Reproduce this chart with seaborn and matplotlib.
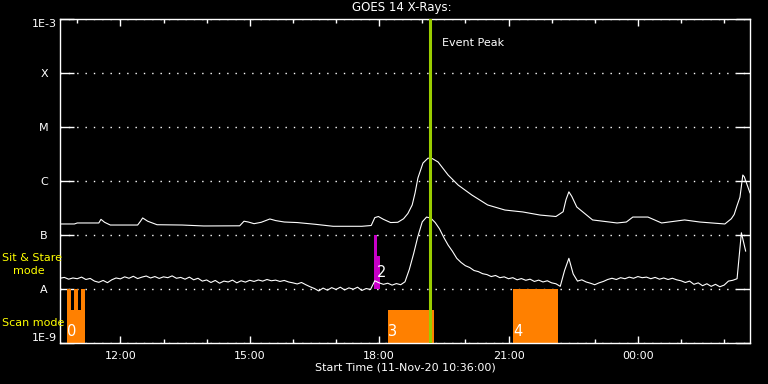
import pandas as pd
import seaborn as sns
import matplotlib.pyplot as plt
import matplotlib.dates as mdates
from matplotlib.ticker import NullLocator

START = pd.Timestamp("2020-11-11 10:36:00")
END = pd.Timestamp("2020-11-12 02:36:00")

# GOES 14 long channel (1-8 A): minutes after start, flux in W/m^2
long_min = [0, 20, 24, 54, 57, 62, 70, 108, 112, 115, 122, 135, 170, 200, 250,
            256, 262, 270, 280, 292, 300, 312, 330, 355, 380, 420, 433, 438,
            443, 450, 460, 470, 478, 484, 490, 494, 498, 505, 512, 518, 526,
            540, 554, 573, 595, 619, 644, 668, 690, 700, 704, 708, 712, 719,
            741, 775, 788, 797, 818, 837, 869, 890, 907, 925, 934, 938, 942,
            946, 948, 950, 952, 960]
long_flux = [1.60e-7, 1.60e-7, 1.67e-7, 1.67e-7, 1.95e-7, 1.72e-7, 1.53e-7,
             1.53e-7, 1.80e-7, 2.07e-7, 1.80e-7, 1.55e-7, 1.53e-7, 1.47e-7,
             1.48e-7, 1.80e-7, 1.74e-7, 1.62e-7, 1.72e-7, 1.98e-7, 1.85e-7,
             1.74e-7, 1.70e-7, 1.58e-7, 1.45e-7, 1.45e-7, 1.50e-7, 2.10e-7,
             2.20e-7, 1.95e-7, 1.70e-7, 1.72e-7, 2.00e-7, 2.50e-7, 3.60e-7,
             6.00e-7, 1.14e-6, 2.15e-6, 2.65e-6, 2.60e-6, 2.25e-6, 1.29e-6,
             8.40e-7, 5.50e-7, 3.60e-7, 2.90e-7, 2.67e-7, 2.34e-7, 2.20e-7,
             2.70e-7, 4.50e-7, 6.30e-7, 5.20e-7, 3.30e-7, 1.90e-7, 1.67e-7,
             1.74e-7, 2.15e-7, 2.15e-7, 1.67e-7, 1.90e-7, 1.74e-7, 1.67e-7,
             1.60e-7, 2.00e-7, 2.40e-7, 3.50e-7, 5.00e-7, 8.00e-7, 1.29e-6,
             1.20e-6, 6.00e-7]

# short channel (0.5-4 A): one reading every 6 minutes, units of 1e-8 W/m^2
short_flux_e8 = [
    1.58, 1.64, 1.52, 1.60, 1.55, 1.66, 1.50, 1.57, 1.40, 1.33,
    1.44, 1.31, 1.48, 1.60, 1.54, 1.68, 1.58, 1.72, 1.56, 1.66,
    1.74, 1.60, 1.70, 1.57, 1.68, 1.62, 1.75, 1.58, 1.64, 1.52,
    1.66, 1.48, 1.58, 1.40, 1.47, 1.32, 1.44, 1.28, 1.40, 1.35,
    1.46, 1.30, 1.42, 1.34, 1.45, 1.38, 1.47, 1.40, 1.50, 1.42,
    1.46, 1.38, 1.44, 1.35, 1.30, 1.24, 1.32, 1.20, 1.10, 1.02,
    0.92, 1.04, 0.95, 1.06, 0.98, 1.08, 0.96, 1.05, 0.99, 1.08,
    0.94, 1.02, 0.98, 1.42, 1.30, 1.22, 1.28, 1.18, 1.26, 1.20,
    1.36, 2.30, 4.50, 9.50, 17.5, 21.5, 20.5, 17.0, 13.0, 9.00,
    6.50, 5.00, 3.70, 3.10, 2.70, 2.50, 2.20, 2.10, 1.92, 1.85,
    1.70, 1.78, 1.62, 1.68, 1.55, 1.62, 1.48, 1.56, 1.45, 1.52,
    1.38, 1.46, 1.35, 1.42, 1.30, 1.25, 1.12, 2.20, 3.70, 1.90,
    1.40, 1.48, 1.35, 1.28, 1.20, 1.30, 1.38, 1.50, 1.58, 1.50,
    1.62, 1.55, 1.66, 1.58, 1.70, 1.62, 1.66, 1.55, 1.64, 1.52,
    1.60, 1.50, 1.58, 1.48, 1.42, 1.32, 1.40, 1.22, 1.30, 1.15,
    1.25, 1.12, 1.22, 1.10, 1.18, 1.40, 1.45, 1.55, 11.0, 5.00,
]
short_min = list(range(0, 6 * len(short_flux_e8), 6))

# IRIS scan mode coverage (orange) and sit & stare (magenta), minutes after start
scan_start = [10, 15, 19, 25, 29, 456, 630]
scan_end = [15, 19, 25, 29, 35, 520, 693]
scan_top = [1e-8, 4.1e-9, 1e-8, 4.1e-9, 1e-8, 4.1e-9, 1e-8]
scan_label = ["0", "3", "4"]
scan_label_min = [16, 463, 637]

stare_start = [437, 441]
stare_end = [441, 445]
stare_top = [1e-7, 4.1e-8]
stare_label = ["2"]
stare_label_min = [448]

peak_min = 515

level_vals = [1e-9, 1e-8, 1e-7, 1e-6, 1e-5, 1e-4, 1e-3]
level_labels = ["1E-9", "A", "B", "C", "M", "X", "1E-3"]

sns.set_theme(style="dark", rc={
    "figure.facecolor": "black", "axes.facecolor": "black",
    "axes.edgecolor": "white", "text.color": "white",
    "xtick.color": "white", "ytick.color": "white",
    "axes.linewidth": 1.0,
})
plt.rcParams["font.family"] = ["DejaVu Sans"]


def t(minutes):
    return START + pd.to_timedelta(minutes, unit="m")


long_df = pd.DataFrame({"time": t(pd.Series(long_min)), "flux": long_flux})
short_df = pd.DataFrame({"time": t(pd.Series(short_min)),
                         "flux": [v * 1e-8 for v in short_flux_e8]})

fig = plt.figure(figsize=(7.68, 3.84), dpi=100)
ax = fig.add_axes([60 / 768, 1 - 343 / 384, 690 / 768, 324 / 384])
ax.set_yscale("log")

# coverage bars
for s, e, top in zip(scan_start, scan_end, scan_top):
    ax.fill_between([t(s), t(e)], 1e-9, top, color="#ff8000", lw=0, zorder=1)
for s, e, top in zip(stare_start, stare_end, stare_top):
    ax.fill_between([t(s), t(e)], 1e-8, top, color="#c800c8", lw=0, zorder=1)

sns.lineplot(data=long_df, x="time", y="flux", color="white", lw=0.8, ax=ax, zorder=2)
sns.lineplot(data=short_df, x="time", y="flux", color="white", lw=0.8, ax=ax, zorder=2)

ax.axvline(t(peak_min), color="#9acd00", lw=2.2, zorder=3)
ax.text(t(peak_min + 16), 3.6e-4, "Event Peak", color="white", fontsize=8,
        va="center", ha="left")

for lbl, m in zip(scan_label, scan_label_min):
    ax.text(t(m), 1.6e-9, lbl, color="white", fontsize=10.5, ha="center", va="center", zorder=4)
for lbl, m in zip(stare_label, stare_label_min):
    ax.text(t(m), 2.06e-8, lbl, color="white", fontsize=10.5, ha="center", va="center", zorder=4)

ax.set_xlim(START, END)
ax.set_ylim(1e-9, 1e-3)
ax.set_xlabel("")
ax.set_ylabel("")

ax.xaxis.set_major_locator(mdates.HourLocator(byhour=range(0, 24, 3)))
ax.xaxis.set_minor_locator(mdates.HourLocator())
ax.xaxis.set_major_formatter(mdates.DateFormatter("%H:%M"))
ax.tick_params(axis="x", which="major", direction="in", length=5, width=1,
               top=True, bottom=True, labelsize=8, pad=6)
ax.tick_params(axis="x", which="minor", direction="in", length=3, width=1,
               top=True, bottom=True)

ax.set_yticks(level_vals)
ax.set_yticklabels(level_labels)
ax.yaxis.set_minor_locator(NullLocator())
ax.tick_params(axis="y", which="major", direction="in", length=10, width=1,
               left=True, right=True, labelsize=8, pad=11.5)
ylabels = ax.get_yticklabels()
for lbl in ylabels:
    lbl.set_ha("center")
ylabels[0].set_va("bottom")
ylabels[-1].set_va("top")

ax.yaxis.grid(True, color="white", linestyle=(0, (1, 5)), lw=1)
ax.xaxis.grid(False)
for sp in ax.spines.values():
    sp.set_color("white")
    sp.set_visible(True)


def px(x, y):
    return x / 768, 1 - y / 384


fig.text(*px(402, 8), "GOES 14 X-Rays:", color="white", fontsize=8.5,
         ha="center", va="center")
fig.text(*px(405, 368), "Start Time (11-Nov-20 10:36:00)", color="white",
         fontsize=8, ha="center", va="center")
fig.text(*px(2, 258), "Sit & Stare", color="#ffff00", fontsize=8,
         ha="left", va="center")
fig.text(*px(13, 271), "mode", color="#ffff00", fontsize=8, ha="left", va="center")
fig.text(*px(2, 323), "Scan mode", color="#ffff00", fontsize=8,
         ha="left", va="center")

fig.savefig("out.png", dpi=100, facecolor="black")
